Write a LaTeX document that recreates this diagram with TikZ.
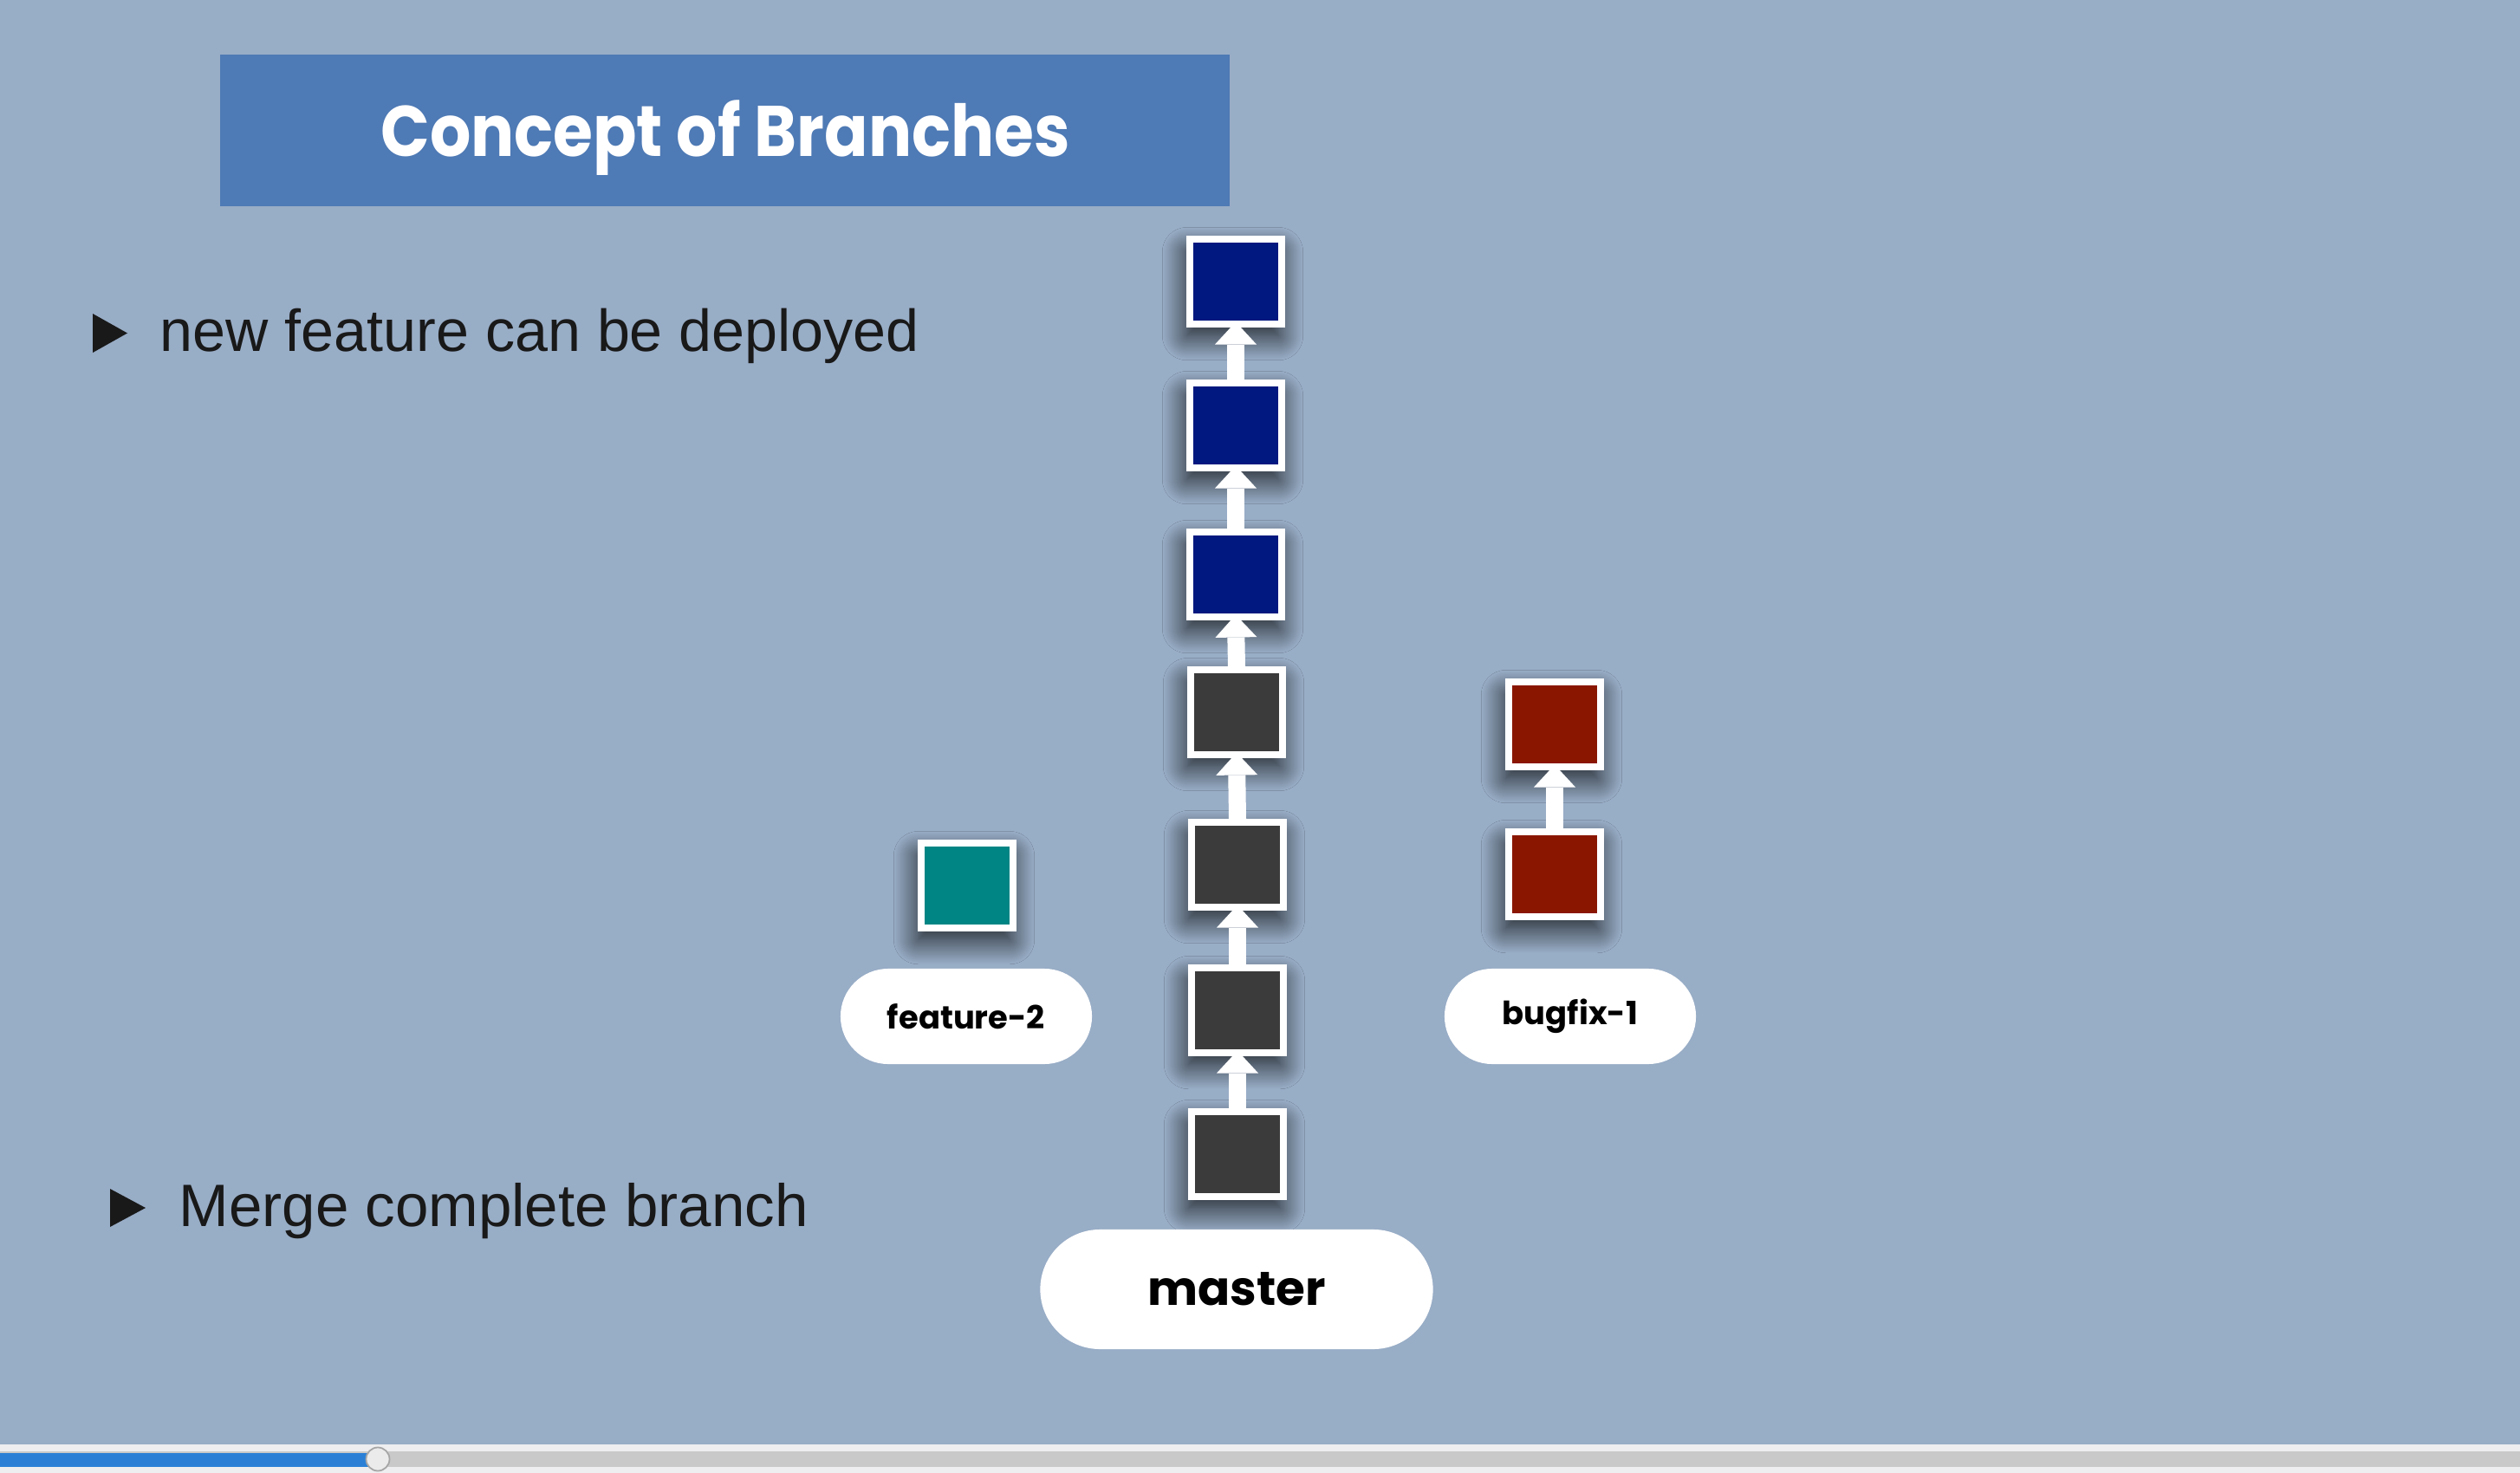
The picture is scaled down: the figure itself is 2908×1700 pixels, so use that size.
\documentclass[tikz,border=0pt]{standalone}
\usepackage{fontspec}
\setmainfont{Liberation Sans}
\newfontfamily\geo{Poppins}
\usetikzlibrary{arrows.meta,shadows.blur}

\definecolor{slide}{HTML}{98ADC6}
\definecolor{banner}{HTML}{4E7AB5}
\definecolor{navy}{HTML}{00187F}
\definecolor{slate}{HTML}{3B3B3B}
\definecolor{rust}{HTML}{8A1600}
\definecolor{tealc}{HTML}{008585}
\definecolor{barbg}{HTML}{EEEEF0}
\definecolor{track}{HTML}{C9C9C9}
\definecolor{progress}{HTML}{2B80D6}

\begin{document}
\begin{tikzpicture}[x=0.01cm,y=-0.01cm,
  commit/.style={draw=white, line width=0.08cm, minimum width=1.06cm,
    minimum height=0.97cm, inner sep=0pt,
    blur shadow={shadow xshift=-1pt, shadow yshift=-4pt,
      shadow blur radius=8pt, shadow blur steps=30, shadow opacity=85}},
  link/.style={draw=white, line width=0.2cm,
    -{Triangle[width=0.48cm,length=0.26cm,line width=0pt]},
    shorten >=-0.06cm},
  tag/.style={fill=white, inner sep=0pt, text=black,
    font=\geo\bfseries\fontsize{10.5}{12}\selectfont},
  bullet/.style={fill=black!90},
  point/.style={anchor=base west, inner sep=0pt, text=black!90},
]
% slide background
\fill[slide] (0,0) rectangle (2908,1700);
\useasboundingbox (0,0) rectangle (2908,1700);

% title banner
\node[fill=banner, minimum width=11.65cm, minimum height=1.75cm, inner sep=0pt]
  (banner) at (836.5,150.5) {};
\node[anchor=base, inner sep=0pt, text=white,
  font=\geo\bfseries\fontsize{23.5}{28}\selectfont]
  (title) at (837,181) {\scalebox{0.9}[1]{Concept of Branches}};

% bullet points
\fill[bullet] (107,362) -- (107,407) -- (147,384.5) -- cycle;
\node[point, font=\fontsize{19.4}{23}\selectfont] (p1) at (184,406)
  {new feature can be deployed};
\fill[bullet] (127,1372) -- (127,1416) -- (168,1394) -- cycle;
\node[point, font=\fontsize{19.65}{23}\selectfont] (p2) at (206,1415)
  {Merge complete branch};

% master history
\node[commit, fill=slate] (m7) at (1428,1332) {};
\node[commit, fill=slate] (m6) at (1428,1166) {};
\node[commit, fill=slate] (m5) at (1428,998) {};
\node[commit, fill=slate] (m4) at (1427,822) {};
\node[commit, fill=navy] (m3) at (1426,663) {};
\node[commit, fill=navy] (m2) at (1426,491) {};
\node[commit, fill=navy] (m1) at (1426,325) {};
\draw[link] (m7.north) -- (m6.south);
\draw[link] (m6.north) -- (m5.south);
\draw[link] (m5.north) -- (m4.south);
\draw[link] (m4.north) -- (m3.south);
\draw[link] (m3.north) -- (m2.south);
\draw[link] (m2.north) -- (m1.south);

% bugfix branch
\node[commit, fill=rust] (b2) at (1794,1009) {};
\node[commit, fill=rust] (b1) at (1794,836) {};
\draw[link] (b2.north) -- (b1.south);

% feature branch
\node[commit, fill=tealc] (f1) at (1116,1022) {};

% branch labels
\node[tag, rounded corners=0.55cm, minimum width=2.9cm, minimum height=1.1cm]
  (feat) at (1115,1173) {feature-2};
\node[tag, rounded corners=0.55cm, minimum width=2.9cm, minimum height=1.1cm]
  (bug) at (1812,1173) {bugfix-1};
\node[tag, rounded corners=0.69cm, minimum width=4.53cm, minimum height=1.38cm,
  font=\geo\bfseries\fontsize{15.6}{19}\selectfont]
  (master) at (1427,1488) {master};

% player progress bar
\fill[barbg] (0,1667) rectangle (2908,1700);
\fill[track] (0,1675) rectangle (2908,1693);
\fill[progress] (0,1677) rectangle (436,1693);
\node[circle, fill=black!8, draw=black!35, line width=0.5pt,
  minimum size=0.27cm, inner sep=0pt] (knob) at (436,1684) {};
\end{tikzpicture}
\end{document}
